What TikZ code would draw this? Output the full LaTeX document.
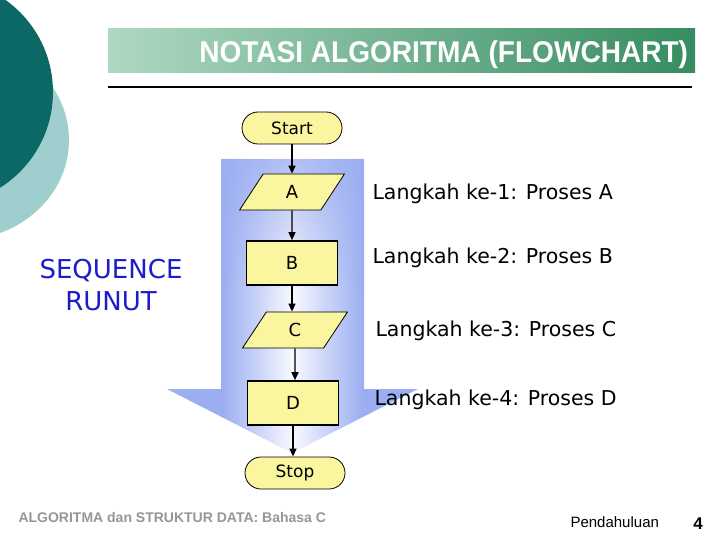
\documentclass[tikz,border=0pt]{standalone}
\usepackage{fontspec}
\setmainfont{DejaVu Sans}
\newfontfamily\arialfont{Liberation Sans}
\usetikzlibrary{shapes.geometric,arrows.meta,fadings}
\definecolor{darkteal}{RGB}{12,104,100}
\definecolor{lightteal}{RGB}{158,206,206}
\definecolor{titlelight}{RGB}{174,216,194}
\definecolor{titledark}{RGB}{54,140,96}
\definecolor{flowyellow}{RGB}{250,246,160}
\definecolor{flowblue}{RGB}{156,174,242}
\definecolor{seqblue}{RGB}{28,28,200}
\definecolor{footgray}{RGB}{150,150,150}
\pgfdeclarehorizontalshading{bigarrow}{100bp}{color(0bp)=(flowblue); color(36bp)=(flowblue); color(50bp)=(white!92!flowblue); color(64bp)=(flowblue); color(100bp)=(flowblue)}
\tikzfading[name=shaftfade, top color=transparent!25, bottom color=transparent!100]
\tikzset{
  terminal/.style={draw, line width=0.8pt, fill=flowyellow, rounded corners=16pt, minimum width=100pt, minimum height=32pt, inner sep=0pt, font=\fontsize{17}{19}\selectfont},
  process/.style={draw, line width=1.6pt, fill=flowyellow, minimum width=91pt, minimum height=44pt, font=\fontsize{18}{20}\selectfont},
  iobox/.style={draw, line width=0.8pt, fill=flowyellow, trapezium, trapezium left angle=69, trapezium right angle=111, trapezium stretches=true, minimum width=105pt, minimum height=36pt, inner sep=0pt, font=\fontsize{18}{20}\selectfont},
  steplabel/.style={anchor=west, font=\fontsize{20.5}{24}\selectfont},
  flow/.style={-{Triangle[length=8pt,width=7pt]}, line width=1.4pt}
}
\begin{document}
\begin{tikzpicture}[x=1pt,y=-1pt]
\useasboundingbox (0,0) rectangle (720,540);
% corner circles
\begin{scope}
\clip (0,0) rectangle (720,540);
\fill[lightteal] (-40,140) ellipse (109 and 100);
\fill[darkteal] (-60,92) circle (113);
\end{scope}
% title
\node[minimum width=587pt, minimum height=44pt, inner sep=0pt, left color=titlelight, right color=titledark] (bar) at (401.5,51) {};
\node[anchor=east, text=white, inner sep=0pt, font=\arialfont\bfseries\fontsize{30}{32}\selectfont] (title) at ([xshift=-7pt,yshift=-4pt]bar.east) {\scalebox{0.935}[1]{NOTASI ALGORITMA (FLOWCHART)}};
\draw[line width=1.6pt] (108,87) -- (692,87);
% big arrow
\shade[shading=bigarrow] (221,159) -- (364,159) -- (364,389) -- (418,389) -- (292,453) -- (167,389) -- (221,389) -- cycle;
\fill[flowblue, path fading=shaftfade] (221,159) rectangle (364,290);
% flowchart
\node[terminal] (start) at (292,128) {Start};
\node[iobox] (a) at (292,192) {A};
\node[process] (b) at (292,263) {B};
\node[iobox] (c) at (295,330) {C};
\node[process] (d) at (293,403) {D};
\node[terminal] (stop) at (295,473) {Stop};
\draw[flow] (start) -- (a);
\draw[flow] (a) -- (b);
\draw[flow] (b) -- (b|-c.north);
\draw[flow] (c) -- (c|-d.north);
\draw[flow] (d) -- (d|-stop.north);
% labels
\node[steplabel] (la) at (369,194) {Langkah ke-1: Proses A};
\node[steplabel] (lb) at (369,258) {Langkah ke-2: Proses B};
\node[steplabel] (lc) at (372,331) {Langkah ke-3: Proses C};
\node[steplabel] (ld) at (371,400) {Langkah ke-4: Proses D};
\node[align=center, text=seqblue, font=\fontsize{26}{32}\selectfont] (seq) at (111,285) {SEQUENCE\\RUNUT};
% footer
\node[anchor=west, text=footgray, font=\arialfont\bfseries\fontsize{14}{16}\selectfont] (foot) at (15,517) {ALGORITMA dan STRUKTUR DATA: Bahasa C};
\node[anchor=west, font=\arialfont\fontsize{15}{17}\selectfont] (chap) at (567,522) {Pendahuluan};
\node[font=\arialfont\bfseries\fontsize{17}{19}\selectfont] (page) at (698,524) {4};
\end{tikzpicture}
\end{document}
